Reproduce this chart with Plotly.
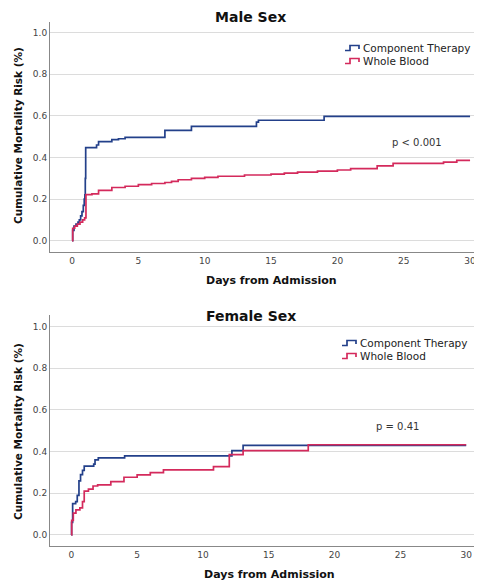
import plotly.graph_objects as go

# days from admission / cumulative mortality risk
male_ct_days = [0, 0.05, 0.15, 0.3, 0.45, 0.55, 0.65, 0.75, 0.85, 0.92, 0.97, 1.0, 1.03,
                1.85, 2.0, 3.0, 3.5, 4.0, 7.0, 9.0, 13.9, 14.05, 19.0, 30]
male_ct_risk = [0, 0.05, 0.07, 0.08, 0.09, 0.10, 0.12, 0.14, 0.17, 0.20, 0.22, 0.30, 0.447,
                0.46, 0.476, 0.486, 0.49, 0.497, 0.53, 0.55, 0.57, 0.579, 0.598, 0.598]

male_wb_days = [0, 0.05, 0.2, 0.4, 0.6, 0.8, 0.95, 1.05, 1.5, 2.0, 3.0, 4.0, 5.0, 6.0, 7.0,
                7.5, 8.0, 9.0, 10.0, 11.0, 13.0, 15.0, 16.0, 17.0, 18.5, 20.0, 21.0, 23.0,
                24.2, 28.0, 29.0, 30.0]
male_wb_risk = [0, 0.06, 0.07, 0.08, 0.09, 0.10, 0.11, 0.222, 0.225, 0.242, 0.256, 0.262,
                0.27, 0.275, 0.28, 0.285, 0.293, 0.30, 0.305, 0.31, 0.316, 0.32, 0.325, 0.33,
                0.335, 0.34, 0.347, 0.36, 0.372, 0.378, 0.386, 0.386]

female_ct_days = [0, 0.02, 0.1, 0.33, 0.45, 0.58, 0.7, 0.85, 0.98, 1.7, 1.8, 2.05, 4.05,
                  12.2, 13.05, 30]
female_ct_risk = [0, 0.06, 0.15, 0.16, 0.19, 0.26, 0.29, 0.31, 0.33, 0.34, 0.36, 0.37, 0.38,
                  0.405, 0.43, 0.43]

female_wb_days = [0, 0.03, 0.15, 0.35, 0.65, 0.85, 0.98, 1.3, 1.65, 2.0, 3.0, 4.0, 5.0, 6.0,
                  7.0, 10.8, 12.0, 13.05, 18.0, 30]
female_wb_risk = [0, 0.07, 0.105, 0.12, 0.13, 0.16, 0.21, 0.22, 0.235, 0.24, 0.256, 0.277,
                  0.288, 0.299, 0.312, 0.328, 0.386, 0.405, 0.433, 0.433]

series_names = ['Component Therapy', 'Whole Blood']
x_ticks = [0, 5, 10, 15, 20, 25, 30]
y_ticks = [0.0, 0.2, 0.4, 0.6, 0.8, 1.0]

BLUE = '#23408a'
RED = '#d42a5c'
COLORS = [BLUE, RED]
FONT = 'DejaVu Sans'
# page body keeps its default 8px margin, so the figure is 8px smaller each way
OFF = 8
W, H = 482 - OFF, 583 - OFF


def px(x, y):
    # screen pixel of the reference -> paper coordinates
    return (x - OFF) / W, 1 - (y - OFF) / H


fig = go.Figure()
panels = [('x', 'y', [(male_ct_days, male_ct_risk), (male_wb_days, male_wb_risk)]),
          ('x2', 'y2', [(female_ct_days, female_ct_risk), (female_wb_days, female_wb_risk)])]
for xa, ya, curves in panels:
    for (days, risk), name, color in zip(curves, series_names, COLORS):
        fig.add_trace(go.Scatter(x=days, y=risk, mode='lines', line_shape='hv',
                                 line=dict(color=color, width=1.7), name=name,
                                 xaxis=xa, yaxis=ya, showlegend=False))

xaxis_style = dict(tickvals=x_ticks, showgrid=False, zeroline=False, showline=True,
                   linecolor='#888', linewidth=1, ticks='', automargin=False,
                   tickfont=dict(size=9, color='#444'))
yaxis_style = dict(tickvals=y_ticks, tickformat='.1f', showgrid=True, gridcolor='#dcdcdc',
                   gridwidth=1, zeroline=False, showline=True, linecolor='#888', linewidth=1,
                   ticks='', automargin=False, tickfont=dict(size=9, color='#444'))

left, _ = px(50, 0)
_, top1 = px(0, 22)
_, bot1 = px(0, 252)
_, top2 = px(0, 315)
_, bot2 = px(0, 546)

fig.update_layout(
    width=W, height=H,
    margin=dict(l=0, r=0, t=0, b=0),
    paper_bgcolor='white', plot_bgcolor='white',
    font=dict(family=FONT),
    xaxis=dict(xaxis_style, domain=[left, 1.0], range=[-1.66, 30.9], anchor='y'),
    yaxis=dict(yaxis_style, domain=[bot1, top1], range=[-0.054, 1.051], anchor='x'),
    xaxis2=dict(xaxis_style, domain=[left, 1.0], range=[-1.62, 31.2], anchor='y2'),
    yaxis2=dict(yaxis_style, domain=[bot2, top2], range=[-0.053, 1.056], anchor='x2'),
)

annotations = [
    ('<b>Male Sex</b>', 251, 17, 14, 0),
    ('<b>Female Sex</b>', 251, 316, 14, 0),
    ('<b>Days from Admission</b>', 271, 280, 11, 0),
    ('<b>Days from Admission</b>', 269, 574, 11, 0),
    ('<b>Cumulative Mortality Risk (%)</b>', 18, 136, 10.5, -90),
    ('<b>Cumulative Mortality Risk (%)</b>', 18, 432, 10.5, -90),
    ('p < 0.001', 417, 142, 10, 0),
    ('p = 0.41', 397, 426, 10, 0),
]
for text, x, y, size, angle in annotations:
    ax, ay = px(x, y)
    fig.add_annotation(xref='paper', yref='paper', x=ax, y=ay, text=text, showarrow=False,
                       xanchor='center', yanchor='middle', textangle=angle,
                       font=dict(size=size, color='#111' if '<b>' in text else '#333'))

# legends drawn inside each panel with step-shaped keys
legend_spots = [(345, 48, 61), (342, 343, 356)]
for lx, ly1, ly2 in legend_spots:
    for name, color, ly in zip(series_names, COLORS, [ly1, ly2]):
        x0, y0 = px(lx, ly + 2.5)
        x1, y1 = px(lx + 5, ly - 2.5)
        x2, y3 = px(lx + 14, ly + 1)
        fig.add_shape(type='path', xref='paper', yref='paper',
                      path=f'M {x0} {y0} L {x1} {y0} L {x1} {y1} L {x2} {y1} L {x2} {y3}',
                      line=dict(color=color, width=1.7))
        tx, ty = px(lx + 16, ly)
        fig.add_annotation(xref='paper', yref='paper', x=tx, y=ty, text=name, showarrow=False,
                           xanchor='left', yanchor='middle',
                           font=dict(size=10.5, color='#222'))

fig.write_html("out.html")
